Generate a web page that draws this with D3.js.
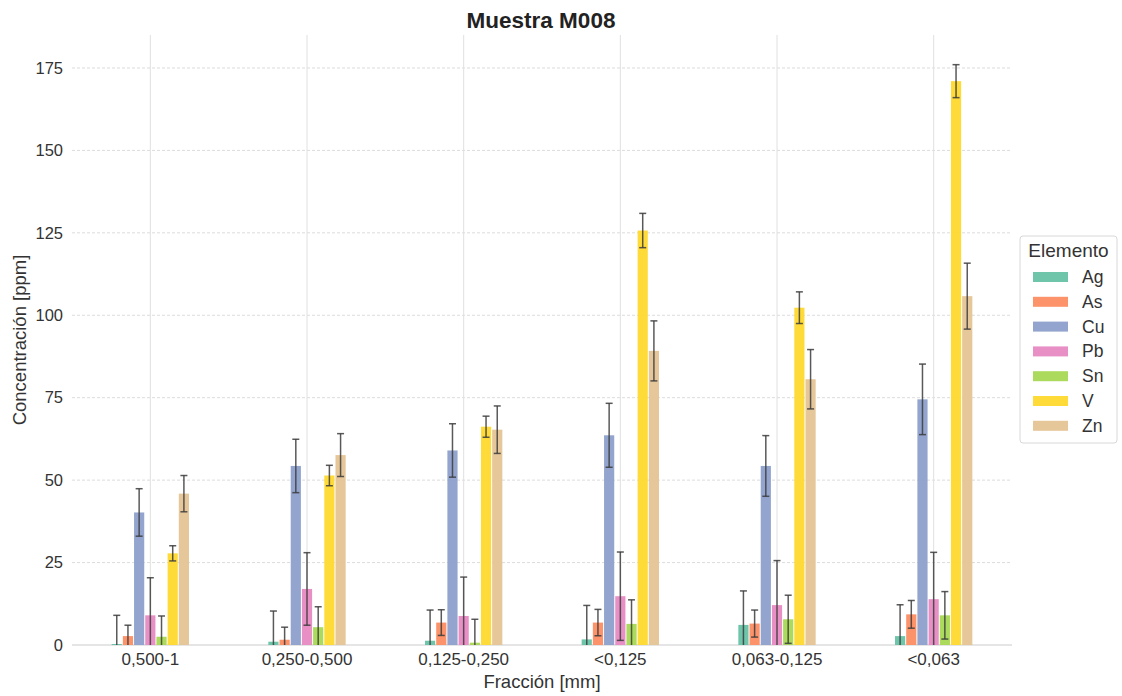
<!DOCTYPE html>
<html>
<head>
<meta charset="utf-8">
<script src="https://cdn.jsdelivr.net/npm/d3@7"></script>
<style>
  body { margin: 0; background: #fff; }
  svg { display: block; font-family: "Liberation Sans", Arial, sans-serif; }
</style>
</head>
<body>
<svg id="chart" width="1122" height="696"></svg>
<script>
const categories = ["0,500-1", "0,250-0,500", "0,125-0,250", "<0,125", "0,063-0,125", "<0,063"];
const elements = ["Ag", "As", "Cu", "Pb", "Sn", "V", "Zn"];
const colors = ["#66c2a5", "#fc8d62", "#8da0cb", "#e78ac3", "#a6d854", "#ffd92f", "#e5c494"];

// mean values per element, one entry per category
const Ag = [0.3, 1.0, 1.3, 1.7, 6.1, 2.7];
const As = [2.7, 1.6, 6.8, 6.8, 6.5, 9.3];
const Cu = [40.2, 54.3, 59.0, 63.6, 54.3, 74.5];
const Pb = [9.0, 17.0, 8.8, 14.8, 12.1, 13.9];
const Sn = [2.5, 5.4, 0.7, 6.4, 7.8, 9.0];
const V  = [27.8, 51.4, 66.2, 125.7, 102.3, 171.0];
const Zn = [45.9, 57.6, 65.3, 89.2, 80.6, 105.8];

// error (half-length of error bar)
const AgErr = [8.7, 9.3, 9.3, 10.3, 10.3, 9.5];
const AsErr = [3.3, 3.8, 3.9, 4.0, 4.1, 4.2];
const CuErr = [7.2, 8.1, 8.1, 9.7, 9.2, 10.7];
const PbErr = [11.4, 11.0, 11.8, 13.4, 13.5, 14.2];
const SnErr = [6.3, 6.2, 7.1, 7.3, 7.3, 7.2];
const VErr  = [2.3, 3.1, 3.2, 5.2, 4.8, 5.0];
const ZnErr = [5.5, 6.5, 7.2, 9.1, 9.0, 10.0];

const yTicks = [0, 25, 50, 75, 100, 125, 150, 175];

const means = [Ag, As, Cu, Pb, Sn, V, Zn];
const errs = [AgErr, AsErr, CuErr, PbErr, SnErr, VErr, ZnErr];

const data = [];
categories.forEach((c, ci) => {
  elements.forEach((e, ei) => {
    data.push({ cat: c, el: e, value: means[ei][ci], err: errs[ei][ci], color: colors[ei] });
  });
});

const svg = d3.select("#chart");
const mLeft = 72, mRight = 1012, mTop = 35, mBottom = 645;

const x = d3.scaleBand().domain(categories).range([mLeft, mRight]).padding(0);
const groupW = x.bandwidth() * 0.5;
const xe = d3.scaleBand().domain(elements).range([-groupW / 2, groupW / 2]).padding(0);
const y = d3.scaleLinear().domain([0, 185]).range([mBottom, mTop]);

svg.append("defs").append("clipPath").attr("id", "plotclip")
  .append("rect").attr("x", mLeft).attr("y", mTop).attr("width", mRight - mLeft).attr("height", mBottom - mTop);

// horizontal dashed gridlines
svg.append("g").selectAll("line").data(yTicks.filter(d => d > 0)).join("line")
  .attr("x1", mLeft).attr("x2", mRight)
  .attr("y1", d => y(d)).attr("y2", d => y(d))
  .attr("stroke", "#dcdcdc").attr("stroke-width", 1).attr("stroke-dasharray", "3,2");

// vertical gridlines at category centers
svg.append("g").selectAll("line").data(categories).join("line")
  .attr("x1", d => x(d) + x.bandwidth() / 2).attr("x2", d => x(d) + x.bandwidth() / 2)
  .attr("y1", mTop).attr("y2", mBottom)
  .attr("stroke", "#e0e0e0").attr("stroke-width", 1);

// bottom spine
svg.append("line").attr("x1", mLeft).attr("x2", mRight).attr("y1", mBottom).attr("y2", mBottom)
  .attr("stroke", "#cccccc").attr("stroke-width", 1.2);

const plot = svg.append("g").attr("clip-path", "url(#plotclip)");

// bars
plot.selectAll("rect.bar").data(data).join("rect").attr("class", "bar")
  .attr("x", d => x(d.cat) + x.bandwidth() / 2 + xe(d.el) + 0.5)
  .attr("width", xe.bandwidth() - 1)
  .attr("y", d => y(d.value))
  .attr("height", d => y(0) - y(d.value))
  .attr("fill", d => d.color)
  .attr("fill-opacity", 0.95);

// error bars
const eb = plot.selectAll("g.err").data(data).join("g").attr("class", "err")
  .attr("stroke", "#3c3c3c").attr("stroke-opacity", 0.85).attr("stroke-width", 1.5);
const cx = d => x(d.cat) + x.bandwidth() / 2 + xe(d.el) + xe.bandwidth() / 2;
eb.append("line").attr("x1", cx).attr("x2", cx)
  .attr("y1", d => y(d.value - d.err)).attr("y2", d => y(d.value + d.err));
eb.append("line").attr("x1", d => cx(d) - 3.5).attr("x2", d => cx(d) + 3.5)
  .attr("y1", d => y(d.value + d.err)).attr("y2", d => y(d.value + d.err));
eb.append("line").attr("x1", d => cx(d) - 3.5).attr("x2", d => cx(d) + 3.5)
  .attr("y1", d => y(d.value - d.err)).attr("y2", d => y(d.value - d.err));

// y axis
const yAxis = svg.append("g").attr("transform", `translate(${mLeft},0)`)
  .call(d3.axisLeft(y).tickValues(yTicks).tickSize(0).tickPadding(9));
yAxis.select(".domain").remove();
yAxis.selectAll("text").attr("font-size", 16.5).attr("fill", "#333").style("font-family", "Liberation Sans, Arial, sans-serif");

// x axis
const xAxis = svg.append("g").attr("transform", `translate(0,${mBottom})`)
  .call(d3.axisBottom(x).tickSize(0).tickPadding(8));
xAxis.select(".domain").remove();
xAxis.selectAll("text").attr("font-size", 17).attr("fill", "#333").style("font-family", "Liberation Sans, Arial, sans-serif");

// axis titles
svg.append("text").attr("x", (mLeft + mRight) / 2).attr("y", 688).attr("text-anchor", "middle")
  .attr("font-size", 18.5).attr("fill", "#333").text("Fracción [mm]");
svg.append("text").attr("transform", `translate(26,${(mTop + mBottom) / 2}) rotate(-90)`)
  .attr("text-anchor", "middle").attr("font-size", 18.5).attr("fill", "#333").text("Concentración [ppm]");

// title
svg.append("text").attr("x", (mLeft + mRight) / 2 - 1).attr("y", 28).attr("text-anchor", "middle")
  .attr("font-size", 22.5).attr("font-weight", "bold").attr("fill", "#222").text("Muestra M008");

// legend
const lg = svg.append("g").attr("transform", "translate(1020,236)");
lg.append("rect").attr("x", 0).attr("y", 0).attr("width", 97).attr("height", 207)
  .attr("rx", 3).attr("fill", "#fff").attr("stroke", "#d8d8d8").attr("stroke-width", 1);
lg.append("text").attr("x", 48.5).attr("y", 21).attr("text-anchor", "middle")
  .attr("font-size", 19).attr("fill", "#333").text("Elemento");
const items = lg.selectAll("g.item").data(elements).join("g").attr("class", "item")
  .attr("transform", (d, i) => `translate(0,${41 + i * 24.8})`);
items.append("rect").attr("x", 13).attr("y", -5).attr("width", 35).attr("height", 10)
  .attr("fill", (d, i) => colors[i]).attr("fill-opacity", 0.95);
items.append("text").attr("x", 62).attr("y", 6).attr("font-size", 17.5).attr("fill", "#333").text(d => d);
</script>
</body>
</html>
